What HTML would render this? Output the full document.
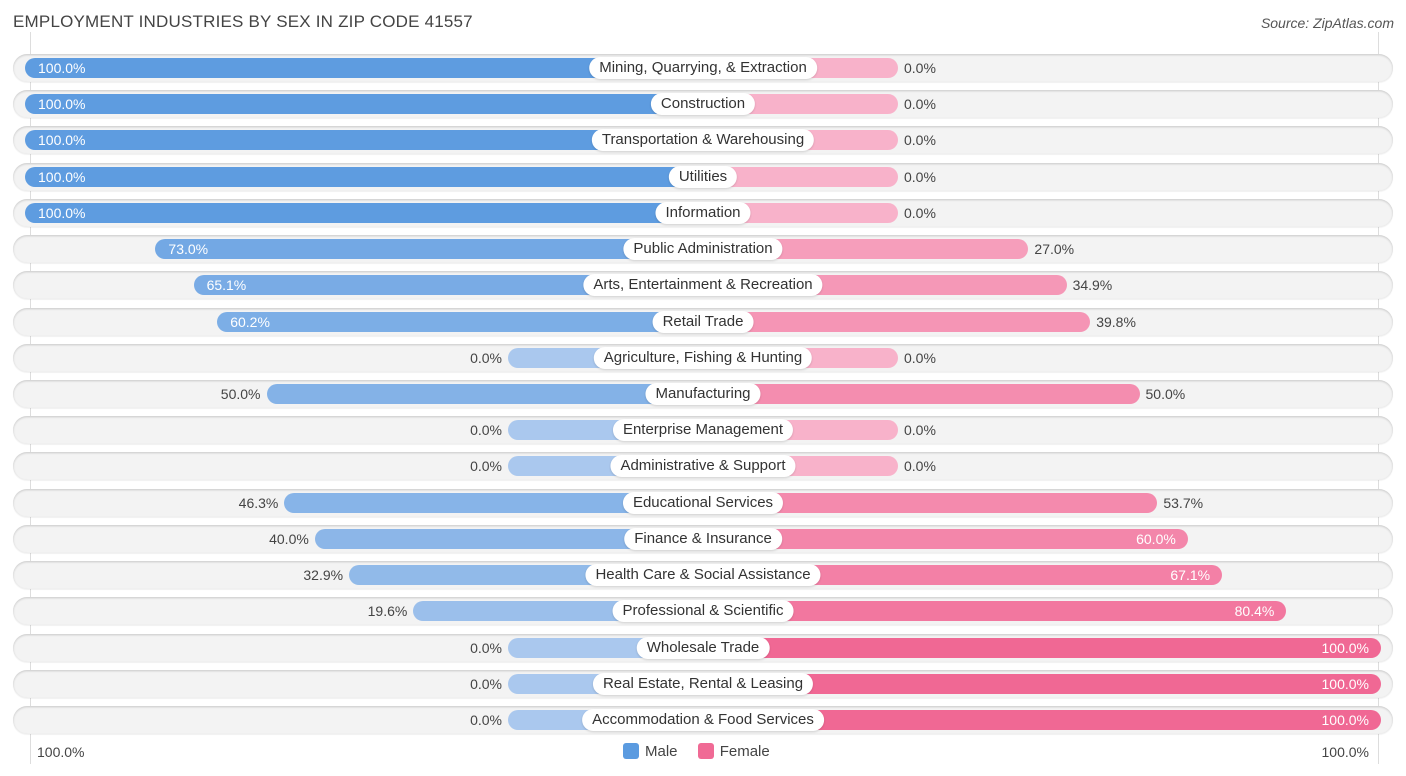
<!DOCTYPE html>
<html><head><meta charset="utf-8"><style>
body{margin:0;background:#fff;font-family:"Liberation Sans",Roboto,sans-serif;}
#wrap{position:relative;width:1406px;height:776px;overflow:hidden;}
.title{position:absolute;left:13px;top:12px;font-size:17px;color:#444;letter-spacing:0.2px}
.src{position:absolute;right:12px;top:15px;font-size:14px;color:#555;font-style:italic}
.row{position:absolute;left:13px;width:1380px;height:28px;border-radius:14px;background:#f3f3f3;box-shadow:inset 0 1px 2px rgba(0,0,0,0.18),0 1px 1px rgba(0,0,0,0.06)}
.bar{position:absolute;height:20px;border-radius:10px}
.lbl{position:absolute;height:22px;line-height:22px;padding:0 10px;background:#fff;border-radius:11px;font-size:15px;color:#333;white-space:nowrap;transform:translateX(-50%);box-shadow:0 1px 2px rgba(0,0,0,0.15)}
.val{position:absolute;font-size:14px;line-height:20px;color:#444}
.vin{color:#fff}
.axl{position:absolute;top:32px;width:1px;height:732px;background:#ddd}
</style></head><body><div id="wrap">
<div class="title">EMPLOYMENT INDUSTRIES BY SEX IN ZIP CODE 41557</div>
<div class="src">Source: ZipAtlas.com</div>
<div class="axl" style="left:30px"></div>
<div class="axl" style="left:1378px"></div>
<div id="rows"></div>
<div class="val" style="left:37px;top:742px">100.0%</div>
<div class="val" style="right:37px;top:742px">100.0%</div>
<div style="position:absolute;left:623px;top:742px;font-size:15px;color:#444;line-height:20px">
<span><span style="display:inline-block;width:16px;height:16px;background:#5b9be0;border-radius:3px;vertical-align:-3px;margin-right:6px"></span>Male</span>
<span style="margin-left:16px"><span style="display:inline-block;width:16px;height:16px;background:#f06a95;border-radius:3px;vertical-align:-3px;margin-right:6px"></span>Female</span>
</div>
</div>
<script>
const categories=["Mining, Quarrying, & Extraction","Construction","Transportation & Warehousing","Utilities","Information","Public Administration","Arts, Entertainment & Recreation","Retail Trade","Agriculture, Fishing & Hunting","Manufacturing","Enterprise Management","Administrative & Support","Educational Services","Finance & Insurance","Health Care & Social Assistance","Professional & Scientific","Wholesale Trade","Real Estate, Rental & Leasing","Accommodation & Food Services"];
const maleValues=[100,100,100,100,100,73.0,65.1,60.2,0,50.0,0,0,46.3,40.0,32.9,19.6,0,0,0];
const femaleValues=[0,0,0,0,0,27.0,34.9,39.8,0,50.0,0,0,53.7,60.0,67.1,80.4,100,100,100];
const cx=703,stub=195,half=678,y0=68,step=36.22;
function len(v){return stub+v/100*(half-stub);}
function mix(a,b,t){return 'rgb('+a.map((x,i)=>Math.round(x+(b[i]-x)*t)).join(',')+')';}
const mLo=[170,200,238],mHi=[94,156,224],fLo=[248,178,202],fHi=[240,104,148];
const root=document.getElementById('rows');
categories.forEach((c,i)=>{
  const y=y0+i*step;
  const row=document.createElement('div');row.className='row';
  
  
  row.style.top=(y-14)+'px';root.appendChild(row);
  const m=maleValues[i],f=femaleValues[i];
  const mb=document.createElement('div');mb.className='bar';
  
  
  const ml=len(m);mb.style.left=(cx-ml)+'px';mb.style.width=ml+'px';mb.style.top=(y-10)+'px';mb.style.background=mix(mLo,mHi,m/100);root.appendChild(mb);
  const fb=document.createElement('div');fb.className='bar';
  
  
  const fl=len(f);fb.style.left=cx+'px';fb.style.width=fl+'px';fb.style.top=(y-10)+'px';fb.style.background=mix(fLo,fHi,f/100);root.appendChild(fb);
  const mv=document.createElement('div');mv.className='val';
  
  
  mv.textContent=m.toFixed(1)+'%';mv.style.top=(y-10)+'px';
  if(m>55){mv.classList.add('vin');mv.style.left=(cx-ml+13)+'px';}else{mv.style.right=(1406-(cx-ml)+6)+'px';}
  root.appendChild(mv);
  const fv=document.createElement('div');fv.className='val';
  
  
  fv.textContent=f.toFixed(1)+'%';fv.style.top=(y-10)+'px';
  if(f>55){fv.classList.add('vin');fv.style.right=(1406-(cx+fl)+12)+'px';}else{fv.style.left=(cx+fl+6)+'px';}
  root.appendChild(fv);
  const l=document.createElement('div');l.className='lbl';
  
  
  l.textContent=c;l.style.left=cx+'px';l.style.top=(y-11)+'px';root.appendChild(l);
});
</script></body></html>
